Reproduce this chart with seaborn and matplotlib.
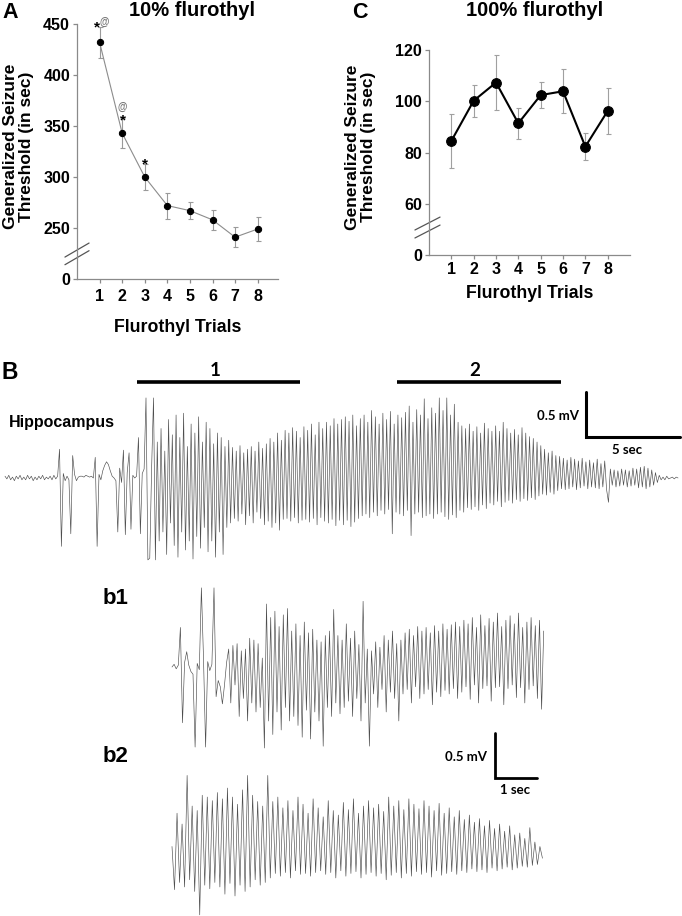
import matplotlib
matplotlib.use("Agg")
import matplotlib.pyplot as plt
import numpy as np
import seaborn as sns

W, H = 682, 916

# ---- Panel A / C: generalized seizure threshold per trial ----
trials = [1, 2, 3, 4, 5, 6, 7, 8]
low_mean = [432, 343, 300, 272, 267, 258, 241, 249]      # 10% flurothyl (sec)
low_sem = [15.5, 14.5, 12.8, 12.7, 8.6, 9.8, 9.5, 12.0]
high_mean = [84.5, 100.2, 107.3, 91.4, 102.4, 103.9, 82.3, 96.2]  # 100% flurothyl
high_sem = [10.6, 6.3, 10.7, 6.0, 5.0, 8.5, 5.3, 9.0]

# significance marks on the 10% curve: (x, y, symbol)
low_marks = [(0.88, 451, "*"), (1.2, 452, "@"), (2.02, 369, "@"),
             (2.02, 359, "*"), (3.01, 316, "*")]

# ---- Panel B: hippocampal EEG, extremes in 0.01 mV ----
hippo_dt = 0.1  # sec per sample
hippo_trace = [
    2, -1, 3, -2, 1, -3, 2, -1, 3, -2,
    1, -2, 3, -1, 2, -3, 1, -2, 2, -1,
    3, -2, 1, -1, 2, -2, 3, -1, 2, 32,
    -76, 5, -3, 2, -2, -62, 25, 4, -3, 1,
    2, 2, 1, 3, 2, 1, 2, 0, 23, -76,
    4, -2, 8, 14, 18, 15, 8, 2, 0, -3,
    -60, 11, -5, 31, -63, 6, 28, -57, 3, 0,
    2, 45, -62, 5, 10, 89, -91, -89, 12, 89,
    -91, 40, -70, 55, -60, 30, -85, 65, -50, 48,
    -75, 70, -88, 45, -60, 72, -80, 35, -70, 60,
    -90, 50, -65, 68, -78, 40, -55, 62, -82, 55,
    -70, 38, -88, 50, -60, 45, -85, 35, -55, 42,
    -50, 34, -45, 30, -48, 36, -40, 28, -52, 32,
    -42, 35, -50, 30, -38, 40, -45, 33, -52, 38,
    -48, 44, -55, 40, -50, 50, -58, 42, -46, 53,
    -45, 50, -48, 56, -44, 52, -50, 45, -47, 57,
    -46, 53, -49, 60, -45, 48, -52, 62, -44, 55,
    -48, 62, -50, 58, -46, 66, -53, 60, -47, 65,
    -52, 68, -47, 63, -54, 70, -49, 58, -45, 66,
    -42, 70, -40, 62, -44, 75, -38, 68, -42, 60,
    -36, 72, -40, 65, -35, 74, -62, 60, -38, 70,
    -40, 67, -42, 73, -36, 80, -64, 62, -40, 76,
    -38, 70, -44, 88, -42, 66, -40, 78, -45, 72,
    -40, 89, -38, 75, -43, 89, -46, 70, -41, 82,
    -44, 62, -36, 58, -38, 55, -33, 60, -35, 52,
    -32, 57, -36, 50, -30, 61, -34, 55, -28, 52,
    -30, 58, -26, 52, -32, 62, -27, 55, -25, 50,
    -28, 54, -24, 48, -26, 56, -23, 50, -25, 46,
    -22, 44, -24, 40, -20, 36, -18, 32, -19, 28,
    -16, 30, -18, 25, -14, 24, -12, 22, -13, 20,
    -12, 23, -10, 21, -13, 19, -11, 22, -9, 18,
    -12, 20, -10, 17, -11, 21, -12, 16, -10, 19,
    -13, -27, 10, -8, 9, -10, 8, -9, 10, -8,
    9, -10, 8, -9, 11, -8, 10, -11, 12, -10,
    13, -12, 11, -10, 9, -8, 6, -5, 3, -2,
    1, -2, 2, -1, 0, 1, -1, 1, 0,
]
window_1 = (7.0, 15.7)   # sec, expanded in b1
window_2 = (20.85, 29.6)  # sec, expanded in b2

b1_dt = 0.05
b1_trace = [
    0, 3, -2, 2, 44, -62, 5, 17, 2, -5, -8, -89, 4, -3, 88, 10, -89, 6, -4, 3,
    88, -33, -15, -22, -41, -20, 5, 20, -40, 24, -20, 26, -55, 18, -35, 20, -60, 32, -40, 30,
    -50, 26, -45, 10, -90, 70, -60, 55, -75, 62, -50, 45, -70, 58, -45, 65, -60, 40, -55, 48,
    -65, 35, -78, 50, -48, 38, -80, 42, -50, 30, -60, 28, -88, 35, -45, 40, -55, 64, -40, 35,
    -52, 30, -45, 48, -38, 32, -55, 40, -35, 25, -60, 73, -40, 20, -88, 18, -30, 28, -45, 22,
    -25, 35, -50, 30, -28, 40, -35, 26, -60, 30, -30, 38, -25, 42, -40, 35, -22, 45, -35, 40,
    -30, 44, -25, 38, -42, 46, -28, 40, -33, 48, -26, 42, -30, 47, -24, 50, -35, 45, -28, 52,
    -22, 48, -36, 55, -20, 44, -40, 58, -24, 46, -21, 54, -38, 50, -23, 60, -22, 45, -42, 52,
    -24, 57, -20, 48, -34, 60, -23, 44, -40, 50, -25, 55, -21, 46, -35, 52, -47, 40,
]

b2_dt = 0.06
b2_trace = [
    15, -33, 52, -25, 40, -30, 94, -22, 60, -35, 55, -61, 72, -28, 70, -32, 66, -25, 75, -30,
    68, -38, 80, -26, 70, -40, 62, -28, 78, -35, 94, -30, 72, -22, 65, -28, 60, -25, 94, -20,
    65, -15, 70, -18, 58, -14, 66, -20, 55, -12, 70, -16, 62, -15, 52, -18, 68, -14, 58, -12,
    48, -16, 66, -14, 55, -20, 50, -12, 64, -18, 56, -15, 68, -13, 52, -20, 60, -16, 66, -14,
    58, -18, 62, -15, 54, -22, 70, -17, 60, -14, 66, -20, 56, -15, 68, -18, 62, -13, 57, -16,
    66, -14, 60, -19, 55, -12, 63, -17, 52, -15, 58, -13, 48, -16, 55, -12, 45, -14, 50, -10,
    42, -13, 46, -11, 38, -14, 44, -9, 35, -12, 40, -10, 32, -8, 38, -11, 28, -9, 30, -7,
    24, -8, 36, -6, 20, -5, 15, 2,
]

sns.set_style("ticks")
plt.rcParams["font.family"] = ["Liberation Sans", "DejaVu Sans"]
plt.rcParams["font.weight"] = "bold"
plt.rcParams["text.color"] = "black"
plt.rcParams["axes.labelcolor"] = "black"

AXIS_GREY = "#8a8a8a"
TRACE = "#4d4d4d"
ALT = ["Lato", "Liberation Sans", "DejaVu Sans"]


def rect(x0, y0, x1, y1):
    return [x0 / W, 1 - y1 / H, (x1 - x0) / W, (y1 - y0) / H]


def ftext(fig, x, y, s, **kw):
    kw.setdefault("ha", "center")
    kw.setdefault("va", "center")
    kw.setdefault("fontweight", "bold")
    fig.text(x / W, 1 - y / H, s, **kw)


def style_axis(ax, xpad):
    sns.despine(ax=ax)
    for side in ("left", "bottom"):
        ax.spines[side].set_color(AXIS_GREY)
        ax.spines[side].set_linewidth(0.9)
    ax.tick_params(axis="both", colors=AXIS_GREY, labelcolor="black",
                   length=3, width=0.9, labelsize=11.5)
    ax.tick_params(axis="y", pad=2)
    ax.tick_params(axis="x", pad=xpad)
    for lab in ax.get_xticklabels() + ax.get_yticklabels():
        lab.set_fontweight("bold")


def axis_break(ax, x0, x1, y0, y1, gap):
    for dy in (0, gap):
        ax.plot([x0, x1], [y0 + dy, y1 + dy], transform=ax.transAxes,
                color="#555555", lw=0.9, clip_on=False)


def draw_trace(ax, values, dt):
    t = np.arange(len(values)) * dt
    sns.lineplot(x=t, y=values, ax=ax, color=TRACE, linewidth=0.45,
                 estimator=None, sort=False)


fig = plt.figure(figsize=(W / 100, H / 100), dpi=100)

# ---------------- Panel A ----------------
axA = fig.add_axes(rect(77, 24, 278, 279))
axA.errorbar(trials, low_mean, yerr=low_sem, fmt="none", ecolor="#9a9a9a",
             elinewidth=0.8, capsize=1.8, capthick=0.8, zorder=2)
sns.lineplot(x=trials, y=low_mean, ax=axA, color="#8c8c8c", linewidth=0.8,
             marker="o", markersize=4.5, markerfacecolor="black",
             markeredgecolor="black", zorder=3)
axA.set_xlim(0, 8.9)
axA.set_ylim(200, 450)
axA.set_xticks(trials)
axA.set_yticks([200, 250, 300, 350, 400, 450])
axA.set_yticklabels(["0", "250", "300", "350", "400", "450"])
style_axis(axA, xpad=4)
axA.set_ylabel("Generalized Seizure\nThreshold (in sec)", fontsize=12.5,
               fontweight="bold", va="center", linespacing=1.05)
axA.yaxis.set_label_coords(-0.29, 0.52)
axA.set_xlabel("Flurothyl Trials", fontsize=12.8, fontweight="bold", va="center")
axA.xaxis.set_label_coords(0.5, -0.19)
axis_break(axA, -0.06, 0.06, 0.086, 0.141, -0.03)
for x, y, s in low_marks:
    if s == "@":
        axA.text(x, y, s, ha="center", va="center", fontsize=7,
                 color="#777777", fontweight="bold", clip_on=False)
    else:
        axA.text(x, y - 4, s, ha="center", va="center", fontsize=11,
                 color="black", fontweight="bold", clip_on=False)

# ---------------- Panel C ----------------
axC = fig.add_axes(rect(429, 50, 630, 255))
axC.errorbar(trials, high_mean, yerr=high_sem, fmt="none", ecolor="#a0a0a0",
             elinewidth=0.8, capsize=1.8, capthick=0.8, zorder=2)
sns.lineplot(x=trials, y=high_mean, ax=axC, color="black", linewidth=1.5,
             marker="o", markersize=7, markerfacecolor="black",
             markeredgecolor="black", zorder=3)
axC.set_xlim(0, 9)
axC.set_ylim(40, 120)
axC.set_xticks(trials)
axC.set_yticks([40, 60, 80, 100, 120])
axC.set_yticklabels(["0", "60", "80", "100", "120"])
style_axis(axC, xpad=2)
axC.set_ylabel("Generalized Seizure\nThreshold (in sec)", fontsize=12.5,
               fontweight="bold", va="center", linespacing=1.05)
axC.yaxis.set_label_coords(-0.34, 0.527)
axC.set_xlabel("Flurothyl Trials", fontsize=12.8, fontweight="bold", va="center")
axC.xaxis.set_label_coords(0.5, -0.19)
axis_break(axC, -0.07, 0.055, 0.122, 0.185, -0.039)

ftext(fig, 10, 12, "A", fontsize=15.5)
ftext(fig, 192, 11, "10% flurothyl", fontsize=14.5)
ftext(fig, 360, 13, "C", fontsize=15.5)
ftext(fig, 535, 11, "100% flurothyl", fontsize=14.5)

# ---------------- Panel B: full trace ----------------
MAIN_PX_S, B_PX_S, PX_UNIT = 18.8, 42.0, 0.9
axB = fig.add_axes(rect(0, 330, 682, 570))
axB.axis("off")
axB.set_xlim(-5 / MAIN_PX_S, 677 / MAIN_PX_S)
axB.set_ylim(-92 / PX_UNIT, 148 / PX_UNIT)
draw_trace(axB, hippo_trace, hippo_dt)
bar_y = 96 / PX_UNIT
for win in (window_1, window_2):
    axB.plot(win, [bar_y, bar_y], color="black", lw=2.6, solid_capstyle="butt")
sb_x, sb_y = 581 / MAIN_PX_S, 41 / PX_UNIT
axB.plot([sb_x, sb_x, sb_x + 5], [sb_y + 50, sb_y, sb_y], color="black", lw=2.2,
         solid_joinstyle="miter")

ftext(fig, 10, 373, "B", fontsize=16.5)
ftext(fig, 215, 370, "1", fontsize=13.5, family=ALT)
ftext(fig, 475, 370, "2", fontsize=13.5, family=ALT)
ftext(fig, 62, 422, "Hippocampus", fontsize=11.5)
ftext(fig, 579, 416, "0.5 mV", fontsize=9.5, ha="right", family=ALT)
ftext(fig, 627, 450, "5 sec", fontsize=9.5, family=ALT)

# ---------------- b1 / b2 expanded traces ----------------
ax1 = fig.add_axes(rect(160, 575, 560, 755))
ax1.axis("off")
ax1.set_xlim(-12 / B_PX_S, 388 / B_PX_S)
ax1.set_ylim(-88 / PX_UNIT, 92 / PX_UNIT)
draw_trace(ax1, b1_trace, b1_dt)

ax2 = fig.add_axes(rect(160, 765, 560, 916))
ax2.axis("off")
ax2.set_xlim(-12 / B_PX_S, 388 / B_PX_S)
ax2.set_ylim(-56 / PX_UNIT, 95 / PX_UNIT)
draw_trace(ax2, b2_trace, b2_dt)
bx, by = 323 / B_PX_S, 82 / PX_UNIT
ax2.plot([bx, bx, bx + 1], [by + 50, by, by], color="black", lw=2.0,
         solid_joinstyle="miter", clip_on=False)

ftext(fig, 116, 598, "b1", fontsize=16)
ftext(fig, 116, 757, "b2", fontsize=16)
ftext(fig, 487, 757, "0.5 mV", fontsize=9.5, ha="right", family=ALT)
ftext(fig, 515, 790, "1 sec", fontsize=9.5, family=ALT)

fig.savefig("out.png", dpi=100, facecolor="white")
